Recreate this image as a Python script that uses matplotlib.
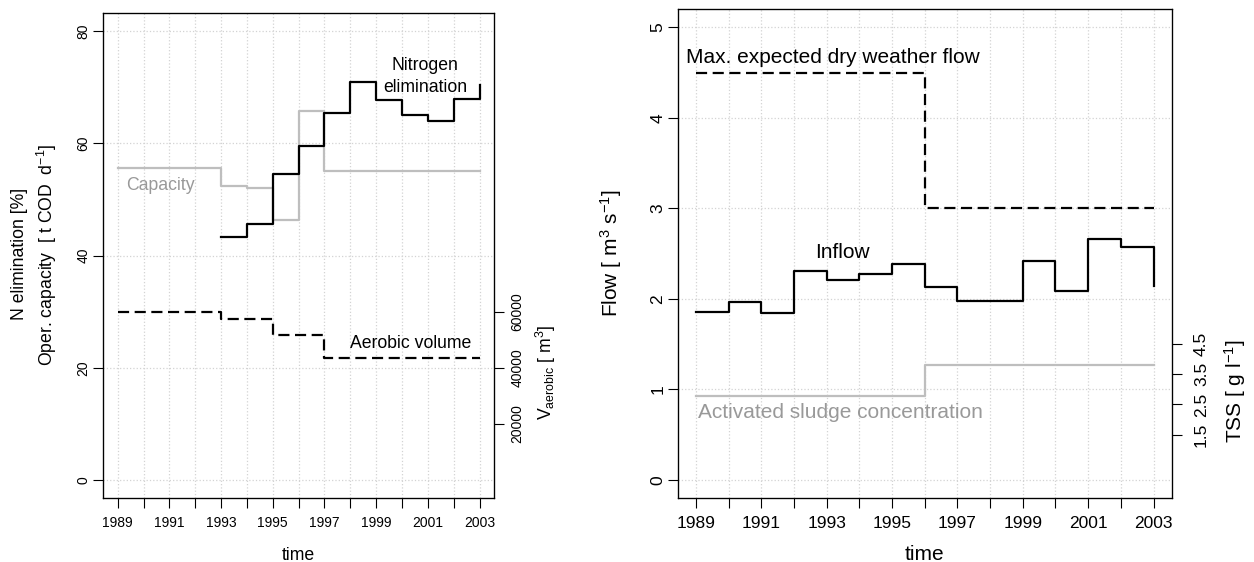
import matplotlib.pyplot as plt

plt.rcParams['font.family'] = ['Liberation Sans', 'DejaVu Sans']
plt.rcParams['mathtext.fontset'] = 'custom'
plt.rcParams['mathtext.rm'] = 'Liberation Sans'
plt.rcParams['mathtext.it'] = 'Liberation Sans:italic'

# ---- data ----
years = [1989, 1990, 1991, 1992, 1993, 1994, 1995, 1996, 1997, 1998, 1999, 2000, 2001, 2002, 2003]
year_labels = ['1989', '', '1991', '', '1993', '', '1995', '', '1997', '', '1999', '', '2001', '', '2003']

# left panel
capacity = [55.6, 55.6, 55.6, 55.6, 52.3, 52.0, 46.3, 65.8, 55.0, 55.0, 55.0, 55.0, 55.0, 55.0, 55.0]
n_years = [1993, 1994, 1995, 1996, 1997, 1998, 1999, 2000, 2001, 2002, 2003]
n_elim = [43.3, 45.7, 54.5, 59.5, 65.4, 70.9, 67.7, 65.1, 63.9, 67.9, 70.4]
v_aerobic = [60000, 60000, 60000, 60000, 57400, 57400, 51800, 51800,
             43400, 43400, 43400, 43400, 43400, 43400, 43400]
left_yticks = [0, 20, 40, 60, 80]
v_ticks = [20000, 40000, 60000]

# right panel
inflow = [1.86, 1.97, 1.84, 2.31, 2.21, 2.27, 2.39, 2.13, 1.98, 1.98, 2.42, 2.09, 2.66, 2.57, 2.14]
dwf_years = [1989, 1996, 2003]
dwf = [4.5, 3.0, 3.0]
tss_years = [1989, 1996, 2003]
tss = [2.77, 3.82, 3.82]
right_yticks = [0, 1, 2, 3, 4, 5]
tss_ticks = [1.5, 2.5, 3.5, 4.5]

GRAY_LINE = '#bebebe'
GRAY_TEXT = '#999999'
W, H = 1254, 562

fig = plt.figure(figsize=(12.54, 5.62), dpi=100)
ax1 = fig.add_axes([103.2 / W, 1 - 498 / H, 390.8 / W, 485 / H])
ax2 = fig.add_axes([677.8 / W, 1 - 498 / H, 494 / W, 488.7 / H])


def style(ax, tick_size, ylim, yticks):
    ax.set_xlim(1988.44, 2003.56)
    ax.set_ylim(*ylim)
    ax.set_xticks(years)
    ax.set_xticklabels(year_labels)
    ax.set_yticks(yticks)
    ax.grid(True, color='#d3d3d3', linestyle=':', linewidth=0.9)
    ax.set_axisbelow(True)
    ax.tick_params(direction='out', length=7, width=0.8, labelsize=tick_size)
    ax.tick_params(axis='x', pad=6)
    ax.tick_params(axis='y', pad=2)
    plt.setp(ax.get_yticklabels(), rotation=90, va='center')
    for s in ax.spines.values():
        s.set_linewidth(0.9)


# ---- left panel ----
style(ax1, 10, (-3.2, 83.2), left_yticks)
ax1.step(years, capacity, where='post', color=GRAY_LINE, lw=1.6)
ax1.step(n_years, n_elim, where='post', color='black', lw=1.6)

ax1b = ax1.twinx()
ax1b.set_ylim(-6400, 166400)
ax1b.set_yticks(v_ticks)
ax1b.tick_params(direction='out', length=7, width=0.8, labelsize=10, pad=5)
plt.setp(ax1b.get_yticklabels(), rotation=90, va='center')
ax1b.step(years, v_aerobic, where='post', color='black', lw=1.6, dashes=(5, 2.5))

ax1.text(2000.9, 71.9, 'Nitrogen\nelimination', ha='center', va='center',
         fontsize=12.7, linespacing=1.35)
ax1.text(1989.31, 52.5, 'Capacity', ha='left', va='center', fontsize=12.7, color=GRAY_TEXT)
ax1.text(2000.33, 24.4, 'Aerobic volume', ha='center', va='center', fontsize=12.7)

fig.text(20 / W, 1 - 254 / H, 'N elimination [%]', rotation=90,
         ha='center', va='center', fontsize=12.7)
fig.text(47 / W, 1 - 255 / H, 'Oper. capacity  [ t COD  d$^{-1}$]', rotation=90,
         ha='center', va='center', fontsize=12.7)
fig.text(546 / W, 1 - 372 / H, 'V$_{\\mathrm{aerobic}}$ [ m$^{3}$]', rotation=90,
         ha='center', va='center', fontsize=12.7)
fig.text(298.6 / W, 1 - 555 / H, 'time', ha='center', va='center', fontsize=12.7)

# ---- right panel ----
style(ax2, 12.5, (-0.2, 5.2), right_yticks)
ax2.step(years, inflow, where='post', color='black', lw=1.6)
ax2.step(dwf_years, dwf, where='post', color='black', lw=1.6, dashes=(5, 2.5))

ax2b = ax2.twinx()
ax2b.set_ylim(-0.6, 15.6)
ax2b.set_yticks(tss_ticks)
ax2b.tick_params(direction='out', length=7, width=0.8, labelsize=12.5, pad=9)
plt.setp(ax2b.get_yticklabels(), rotation=90, va='center')
ax2b.step(tss_years, tss, where='post', color=GRAY_LINE, lw=1.6)

ax2.text(1988.7, 4.67, 'Max. expected dry weather flow', ha='left', va='center', fontsize=15)
ax2.text(1993.47, 2.51, 'Inflow', ha='center', va='center', fontsize=15)
ax2.text(1989.07, 0.75, 'Activated sludge concentration', ha='left', va='center',
         fontsize=15, color=GRAY_TEXT)

fig.text(611 / W, 1 - 253 / H, 'Flow [ m$^{3}$ s$^{-1}$]', rotation=90,
         ha='center', va='center', fontsize=15)
fig.text(1235 / W, 1 - 391 / H, 'TSS [ g l$^{-1}$]', rotation=90,
         ha='center', va='center', fontsize=15)
fig.text(924.8 / W, 1 - 555 / H, 'time', ha='center', va='center', fontsize=15)

fig.savefig('out.png', dpi=100)
